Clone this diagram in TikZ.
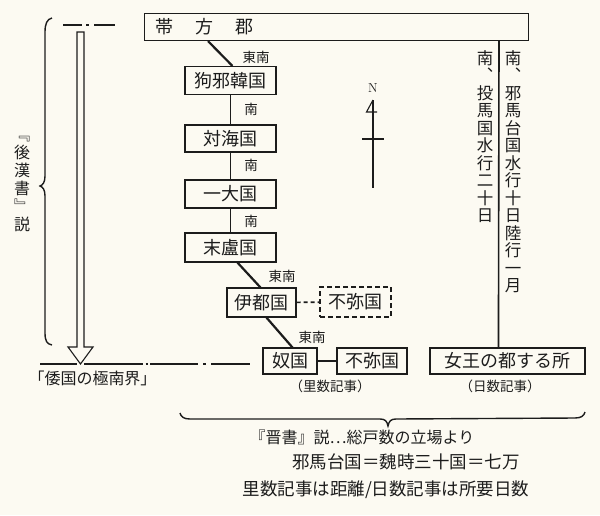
\documentclass[tikz,border=0pt]{standalone}
\usepackage{fontspec}
\newfontfamily\jp{Noto Sans CJK JP}
\usetikzlibrary{calc}
\definecolor{paper}{RGB}{252,250,242}
\definecolor{ink}{RGB}{28,28,28}
\begin{document}
\begin{tikzpicture}[x=1pt,y=-1pt,
  every node/.style={text=ink},
  kbox/.style={draw=ink, line width=1.1pt, inner sep=0pt, minimum height=28pt,
    font=\jp\fontsize{18}{18}\selectfont},
  lbl/.style={inner sep=0pt, font=\jp\fontsize{13.5}{13.5}\selectfont},
  vt/.style={inner sep=0pt, align=center, anchor=north, font=\jp\fontsize{16.5}{17.5}\selectfont},
  txt/.style={inner sep=0pt, font=\jp\fontsize{17}{17}\selectfont},
  conn/.style={draw=ink, line width=1.6pt},
  diag/.style={draw=ink, line width=2.2pt},
  thin/.style={draw=ink, line width=1.4pt}]
\fill[paper] (0,0) rectangle (600,515);
\useasboundingbox (0,0) rectangle (600,515);

% boxes
\node[kbox, anchor=north west, minimum height=27pt, text width=362pt, inner xsep=11pt, align=left] (tai) at (144,13) {帯\hspace{22pt}方\hspace{22pt}郡};
\node[kbox, minimum width=91pt] (kuya) at (230.5,80.5) {狗邪韓国};
\node[kbox, minimum width=91pt, minimum height=27pt] (tsui) at (230.5,138.5) {対海国};
\node[kbox, minimum width=91pt] (ichi) at (230.5,194) {一大国};
\node[kbox, minimum width=91pt, minimum height=29pt] (matsu) at (230.5,247.5) {末盧国};
\node[kbox, minimum width=69pt, minimum height=29pt] (ito) at (261.5,302.5) {伊都国};
\node[kbox, dashed, dash pattern=on 5pt off 3pt, minimum width=71pt, minimum height=30pt] (fumiA) at (355.5,302) {不弥国};
\node[kbox, minimum width=54pt, minimum height=26pt] (na) at (290,361) {奴国};
\node[kbox, minimum width=70pt, minimum height=26pt] (fumiB) at (372,361) {不弥国};
\node[kbox, minimum width=155pt, minimum height=26pt] (jo) at (507.5,361) {女王の都する所};

% connectors
\draw[diag] ([xshift=64pt]tai.south west) -- ([xshift=48pt]kuya.north west);
\draw[conn] (kuya) -- (tsui);
\draw[conn] (tsui) -- (ichi);
\draw[conn] (ichi) -- (matsu);
\draw[diag] ([xshift=53pt]matsu.south west) -- ([xshift=34pt]ito.north west);
\draw[diag] ([xshift=40pt]ito.south west) -- ([xshift=30pt]na.north west);
\draw[conn, dash pattern=on 4pt off 3pt] (ito) -- (fumiA);
\draw[conn] (na) -- (fumiB);
\draw[conn] ([xshift=355pt]tai.south west) -- ([xshift=69pt]jo.north west);

% labels
\node[lbl] (d1) at (256,57) {東南};
\node[lbl] (s1) at (251,109) {南};
\node[lbl] (s2) at (251,165) {南};
\node[lbl] (s3) at (251,221) {南};
\node[lbl] (d2) at (282,276) {東南};
\node[lbl] (d3) at (312,337) {東南};
\node[lbl] (ri) at (330,386) {（里数記事）};
\node[lbl] (hi) at (500,386) {（日数記事）};

% vertical texts
\node[vt] (c1) at (485,50) {南\\︑\\投\\馬\\国\\水\\行\\二\\十\\日};
\node[vt] (c2) at (513,50) {南\\︑\\邪\\馬\\台\\国\\水\\行\\十\\日\\陸\\行\\一\\月};
\node[vt, font=\jp\fontsize{16}{18}\selectfont] (gokan) at (22,136) {﹃\\後\\漢\\書\\﹄\\説};

% compass
\node[inner sep=0pt, font=\rmfamily\fontsize{13}{13}\selectfont] (north) at (373,88) {N};
\draw[ink, line width=1.3pt] (373,100) -- (373,188);
\draw[ink, line width=1.3pt] (362,139) -- (384,139);
\draw[ink, line width=1.1pt] (373,100) -- (366.5,112) -- (377,112);

% left brace
\draw[thin] (52,18) .. controls (47,19) and (45,24) .. (45,32) -- (45,176)
  .. controls (45,182) and (43,185) .. (40,186)
  .. controls (43,187) and (45,190) .. (45,196) -- (45,333)
  .. controls (45,341) and (47,344) .. (52,345);

% hollow arrow
\draw[ink, line width=1.1pt, fill=paper] (77,32) -- (84,32) -- (84,347) -- (93,347) -- (80.5,364) -- (68,347) -- (77,347) -- cycle;

% dash-dot lines
\draw[thin] (63,25) -- (82,25) (86,25) -- (89,25) (94,25) -- (115,25);
\draw[thin] (40,364) -- (77,364) (84,364) -- (143,364) (145.5,364) -- (147.5,364) (150,364) -- (198,364) (203,364) -- (206,364) (211,364) -- (250,364);
\node[txt, font=\jp\fontsize{16}{16}\selectfont] (nankai) at (92.5,378) {「倭国の極南界」};

% bottom brace
\draw[thin] (180,413) .. controls (181,417) and (184,419) .. (190,419) -- (380,419)
  .. controls (385,419) and (387,421) .. (388,426)
  .. controls (389,421) and (391,419) .. (396,419) -- (575,418)
  .. controls (581,418) and (584,416) .. (585,412);

\node[txt, font=\jp\fontsize{16}{16}\selectfont] (t1) at (362,437) {『晋書』説…総戸数の立場より};
\node[txt, font=\jp\fontsize{17.5}{17.5}\selectfont] (t2) at (406,462) {邪馬台国＝魏時三十国＝七万};
\node[txt, font=\jp\fontsize{17.5}{17.5}\selectfont] (t3) at (386,490) {里数記事は距離/日数記事は所要日数};
\end{tikzpicture}
\end{document}
